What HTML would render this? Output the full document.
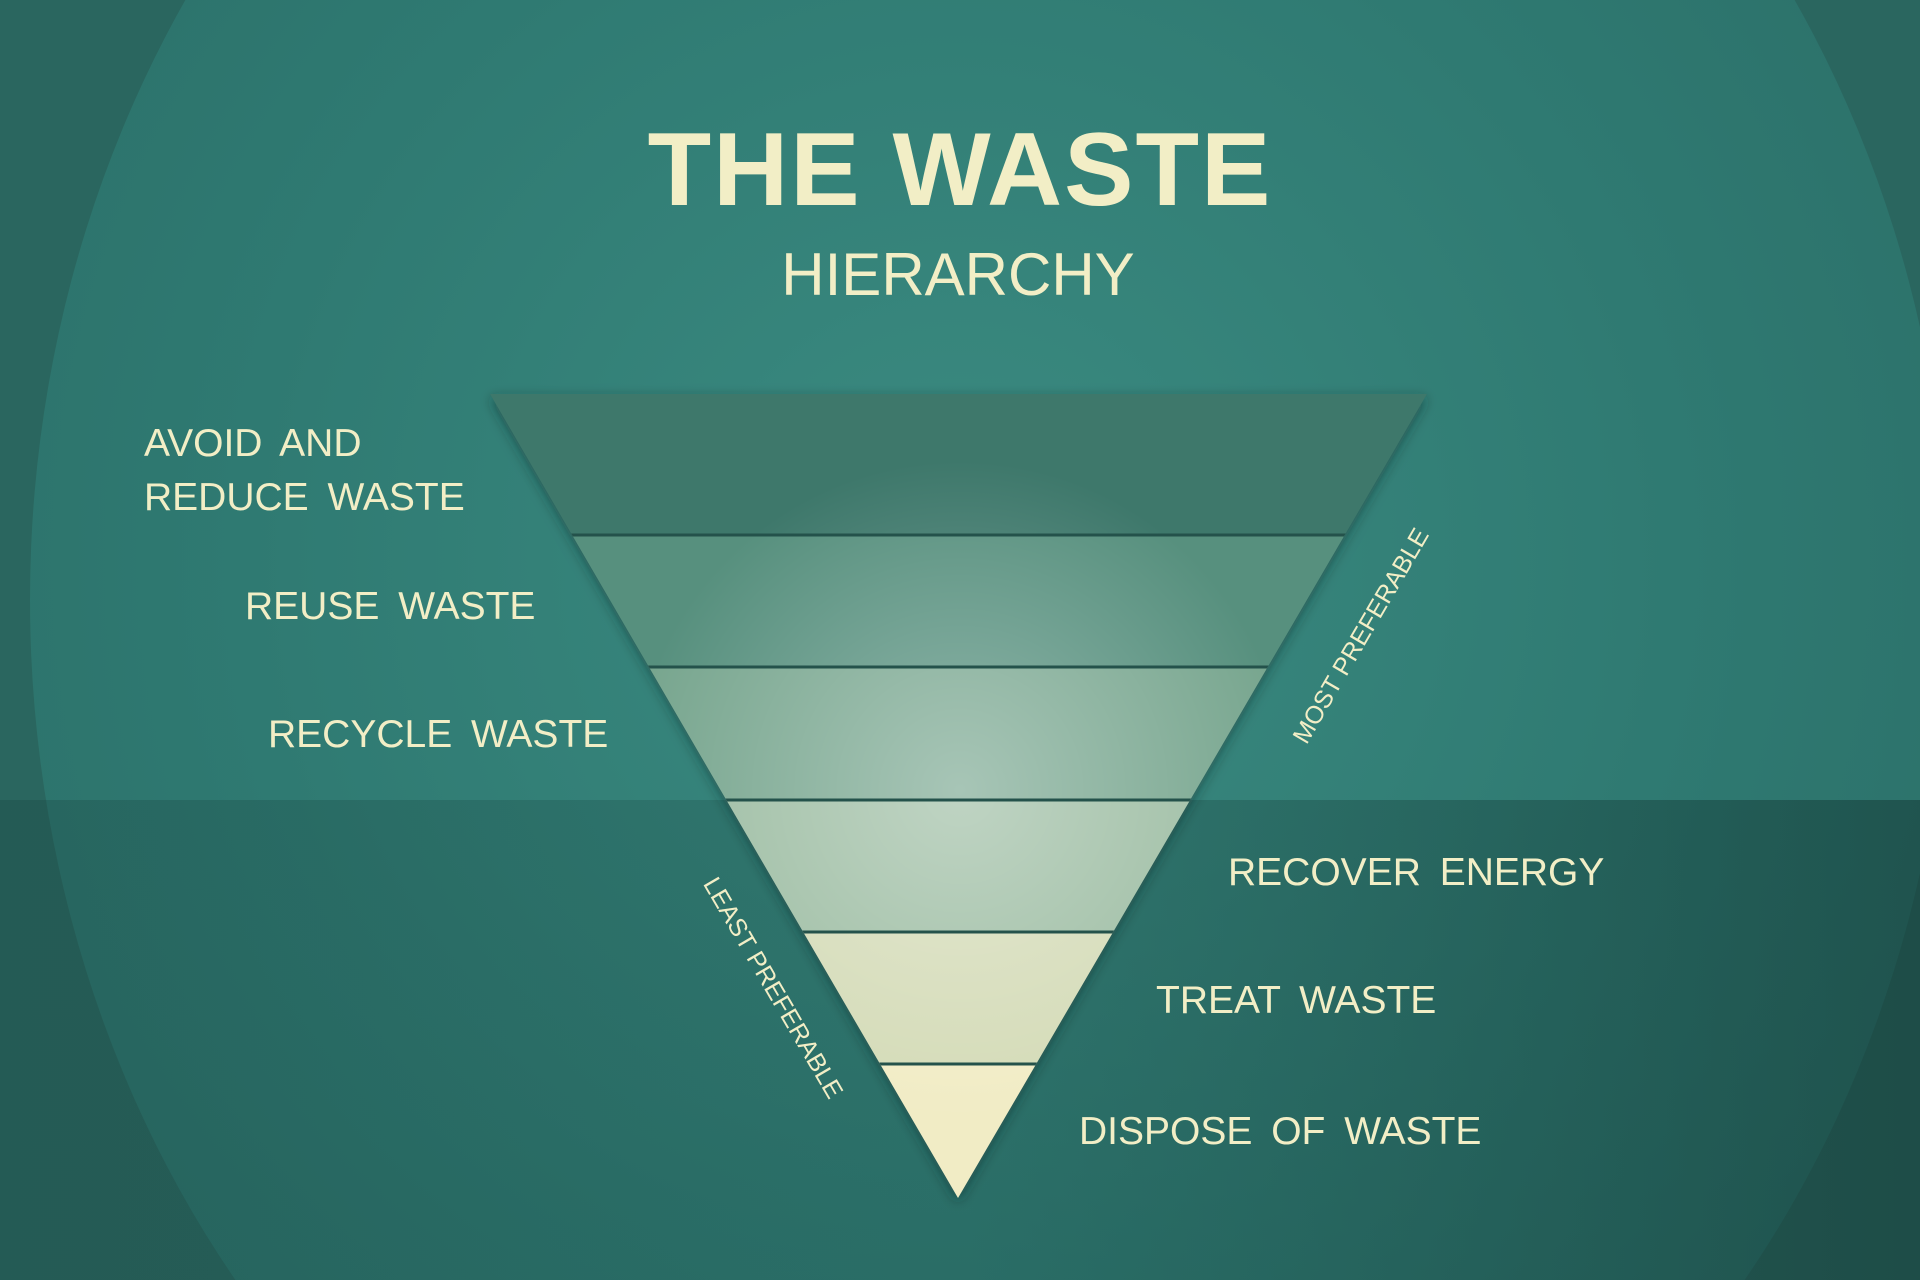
<!DOCTYPE html>
<html><head><meta charset="utf-8"><style>
html,body{margin:0;padding:0;width:1920px;height:1280px;overflow:hidden;background:#2c6f68}
svg{display:block;position:absolute;left:0;top:0}
text{font-family:"Liberation Sans",sans-serif;fill:#f2eec6}
</style></head><body>
<svg width="1920" height="1280" viewBox="0 0 1920 1280">
<defs>
<radialGradient id="bg" cx="960" cy="560" r="1100" gradientUnits="userSpaceOnUse">
<stop offset="0" stop-color="#3b8b81"/><stop offset="0.65" stop-color="#2f7a72"/><stop offset="1" stop-color="#2c716a"/>
</radialGradient>
<radialGradient id="glow" cx="960" cy="790" r="330" gradientUnits="userSpaceOnUse">
<stop offset="0" stop-color="#ffffff" stop-opacity="0.35"/><stop offset="1" stop-color="#ffffff" stop-opacity="0"/>
</radialGradient>
<linearGradient id="low" x1="0" y1="0" x2="1" y2="0">
<stop offset="0" stop-color="#143a37" stop-opacity="0.25"/><stop offset="0.5" stop-color="#143a37" stop-opacity="0.2"/><stop offset="1" stop-color="#0f2e2b" stop-opacity="0.45"/>
</linearGradient>
<filter id="sh" x="-10%" y="-10%" width="120%" height="120%"><feDropShadow dx="0" dy="4" stdDeviation="6" flood-color="#0b2a27" flood-opacity="0.5"/></filter>
<clipPath id="tri"><polygon points="490,394 1427,394 958,1198"/></clipPath>
</defs>
<rect width="1920" height="1280" fill="#2a665f"/>
<ellipse cx="990" cy="600" rx="960" ry="1100" fill="url(#bg)"/>
<rect x="0" y="800" width="1920" height="480" fill="url(#low)"/>
<polygon points="490,394 1427,394 958,1198" fill="#2a6a62" filter="url(#sh)"/>
<g clip-path="url(#tri)">
<rect x="480" y="394" width="960" height="141" fill="#3e786b"/>
<rect x="480" y="535" width="960" height="132" fill="#57907e"/>
<rect x="480" y="667" width="960" height="133" fill="#78a68f"/>
<rect x="480" y="800" width="960" height="132" fill="#9dbda3"/>
<rect x="480" y="932" width="960" height="132" fill="#d4dbb7"/>
<rect x="480" y="1064" width="960" height="140" fill="#f1ecc5"/>
<rect x="480" y="394" width="960" height="810" fill="url(#glow)"/>
<g stroke="#24524b" stroke-width="3">
<line x1="480" y1="535" x2="1440" y2="535"/><line x1="480" y1="667" x2="1440" y2="667"/>
<line x1="480" y1="800" x2="1440" y2="800"/><line x1="480" y1="932" x2="1440" y2="932"/>
<line x1="480" y1="1064" x2="1440" y2="1064"/>
</g>
</g>
<text x="960" y="205" text-anchor="middle" font-size="104" font-weight="bold" letter-spacing="2">THE WASTE</text>
<text x="958" y="295" text-anchor="middle" font-size="60">HIERARCHY</text>
<g font-size="39" word-spacing="8">
<text x="144" y="456">AVOID AND</text>
<text x="144" y="510">REDUCE WASTE</text>
<text x="245" y="619">REUSE WASTE</text>
<text x="268" y="747">RECYCLE WASTE</text>
<text x="1228" y="885">RECOVER ENERGY</text>
<text x="1156" y="1013">TREAT WASTE</text>
<text x="1079" y="1144">DISPOSE OF WASTE</text>
</g>
<text font-size="25" text-anchor="middle" transform="translate(1368,640) rotate(-59.7)">MOST PREFERABLE</text>
<text font-size="25" text-anchor="middle" transform="translate(766,992) rotate(59.7)">LEAST PREFERABLE</text>
</svg>
</body></html>
